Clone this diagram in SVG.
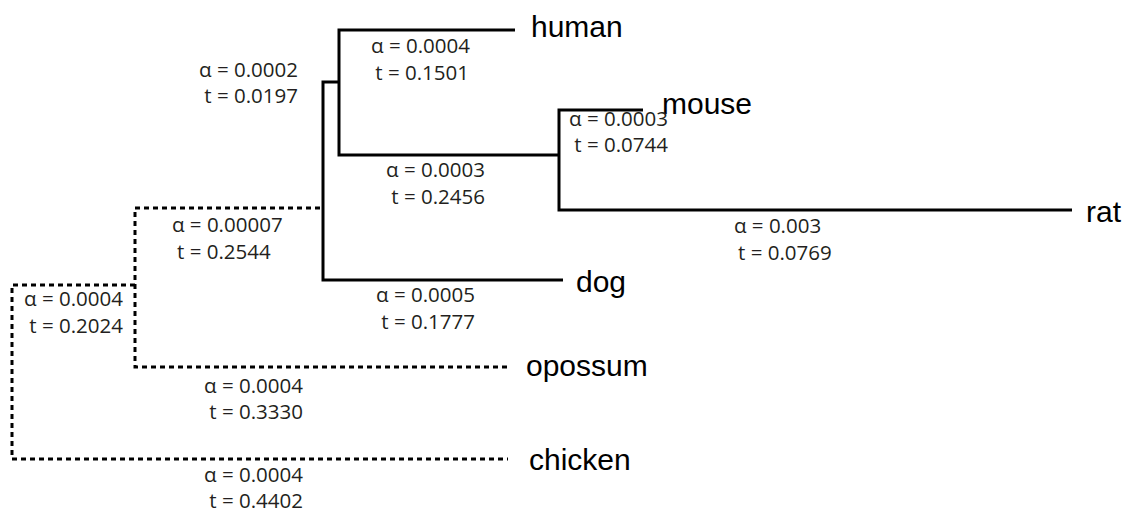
<svg xmlns="http://www.w3.org/2000/svg" width="1126" height="514" viewBox="0 0 1126 514">
  <style>
    .branch { fill: none; stroke: #000; stroke-width: 3; stroke-linecap: butt; stroke-linejoin: miter; }
    .dotted { stroke-dasharray: 5 4; }
    .taxon { font-family: "Liberation Sans", Arial, sans-serif; font-size: 30px; fill: #000; }
    .param { font-family: "Open Sans", "Noto Sans", sans-serif; font-size: 20.5px; fill: #231f20; }
    .end { text-anchor: end; }
  </style>
  <rect width="1126" height="514" fill="#fff"/>

  <!-- tree branches -->
  <g id="connectors">
    <!-- placental clade (solid) -->
    <polyline class="branch" points="563,280 323,280 323,82 339,82"/>
    <polyline class="branch" points="515,30 339,30 339,155 559,155"/>
    <polyline class="branch" points="643,110 559,110 559,210 1072,210"/>
    <!-- deeper branches (dotted) -->
    <polyline class="branch dotted" points="320,208 135,208 135,367 510,367"/>
    <polyline class="branch dotted" points="135,285 12,285 12,459 508,459"/>
  </g>

  <!-- leaf names -->
  <g id="human"><text class="taxon" x="531" y="37">human</text></g>
  <g id="mouse"><text class="taxon" x="662" y="114">mouse</text></g>
  <g id="rat"><text class="taxon" x="1086" y="222">rat</text></g>
  <g id="dog"><text class="taxon" x="576" y="292">dog</text></g>
  <g id="opossum"><text class="taxon" x="526" y="376">opossum</text></g>
  <g id="chicken"><text class="taxon" x="529" y="470">chicken</text></g>

  <!-- branch parameters -->
  <g id="branch-params">
    <text class="param end" x="298" y="77">α = 0.0002</text>
    <text class="param end" x="298" y="103">t = 0.0197</text>

    <text class="param end" x="470" y="53">α = 0.0004</text>
    <text class="param end" x="469" y="80">t = 0.1501</text>

    <text class="param end" x="485" y="177">α = 0.0003</text>
    <text class="param end" x="485" y="204">t = 0.2456</text>

    <text class="param end" x="668" y="126">α = 0.0003</text>
    <text class="param end" x="668" y="152">t = 0.0744</text>

    <text class="param" x="734" y="233">α = 0.003</text>
    <text class="param" x="738" y="260">t = 0.0769</text>

    <text class="param end" x="475" y="302">α = 0.0005</text>
    <text class="param end" x="475" y="329">t = 0.1777</text>

    <text class="param" x="172" y="232">α = 0.00007</text>
    <text class="param" x="177" y="259">t = 0.2544</text>

    <text class="param end" x="123" y="306">α = 0.0004</text>
    <text class="param end" x="123" y="333">t = 0.2024</text>

    <text class="param end" x="303" y="393">α = 0.0004</text>
    <text class="param end" x="303" y="419">t = 0.3330</text>

    <text class="param end" x="303" y="482">α = 0.0004</text>
    <text class="param end" x="303" y="508">t = 0.4402</text>
  </g>
</svg>
